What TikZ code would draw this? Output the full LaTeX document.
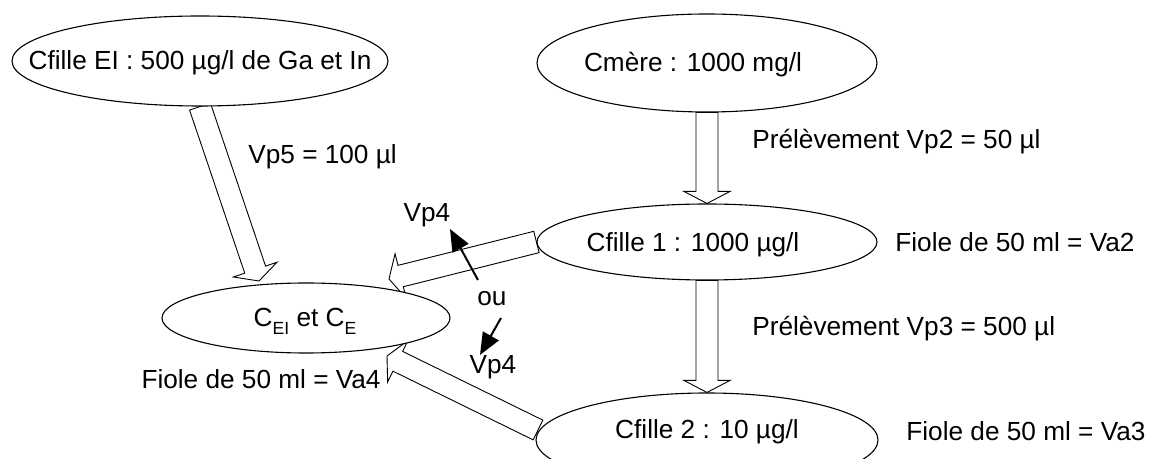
\documentclass[tikz,border=0pt]{standalone}
\usepackage{fontspec}
\setmainfont{Liberation Sans}
\usetikzlibrary{shapes.geometric,calc,arrows.meta}
\pgfdeclarelayer{bg}
\pgfsetlayers{bg,main}
\newcommand\blockarr[2]{%
  \coordinate (tmpH) at ($(#2)!6pt!(#1)$);
  \draw[barrow] ($(#1)!5.5pt!90:(#2)$) -- ($(tmpH)!5.5pt!90:(#2)$) -- ($(tmpH)!11.5pt!90:(#2)$) -- (#2) -- ($(tmpH)!11.5pt!-90:(#2)$) -- ($(tmpH)!5.5pt!-90:(#2)$) -- ($(#1)!5.5pt!-90:(#2)$) -- cycle;}
\newcommand\lowsub[1]{\raisebox{-3.6pt}{\fontsize{8.8}{10}\selectfont #1}}
\tikzset{
  ell/.style={ellipse, draw, line width=0.55pt, fill=white, inner sep=0pt},
  barrow/.style={draw, line width=0.45pt, fill=white, line join=miter},
  txt/.style={inner sep=0pt, anchor=base, font=\fontsize{13.1}{15}\selectfont},
  smallarr/.style={line width=1pt, -{Triangle[length=11pt,width=9pt]}}
}
\begin{document}
\begin{tikzpicture}[x=0.5pt,y=-0.5pt]
\useasboundingbox (0,0) rectangle (1153,459);
\clip (0,0) rectangle (1153,459);
% ellipses
\node[ell, minimum width=188pt, minimum height=45pt] (ei) at (200,61) {};
\node[ell, minimum width=170pt, minimum height=49pt] (m) at (707,63) {};
\node[ell, minimum width=170pt, minimum height=38pt] (c1) at (707,242) {};
\node[ell, minimum width=171pt, minimum height=47pt] (c2) at (707,440) {};
\node[ell, minimum width=144pt, minimum height=35pt] (ce) at (306,318) {};
% ellipse texts
\node[txt] (tei) at (200,70) {Cfille EI : 500 µg/l de Ga et In};
\node[txt] (tm) at (693,72) {Cmère : 1000 mg/l};
\node[txt] (tc1) at (693,252) {Cfille 1 : 1000 µg/l};
\node[txt] (tc2) at (707,439) {Cfille 2 : 10 µg/l};
\node[txt] (tce) at (305,327) {C\lowsub{EI} et C\lowsub{E}};
% labels
\node[txt, anchor=base west] (l1) at (752,149) {Prélèvement Vp2 = 50 µl};
\node[txt, anchor=base west] (l2) at (752,336) {Prélèvement Vp3 = 500 µl};
\node[txt, anchor=base west] (l3) at (895,252) {Fiole de 50 ml = Va2};
\node[txt, anchor=base west] (l4) at (906,441) {Fiole de 50 ml = Va3};
\node[txt, anchor=base east] (l5) at (381,389) {Fiole de 50 ml = Va4};
\node[txt, anchor=base west] (l6) at (248,164) {Vp5 = 100 µl};
\node[txt] (vpa) at (427,222) {Vp4};
\node[txt] (ou) at (492,306) {ou};
\node[txt] (vpb) at (493,374) {Vp4};
% arrow end points
\coordinate (t3) at (259,281);
\coordinate (t4) at (389,279);
\coordinate (s5) at (538,430);
\coordinate (t5) at (387,356);
\begin{pgfonlayer}{bg}
\blockarr{m.south}{c1.north}
\blockarr{c1.south}{c2.north}
\blockarr{ei.south}{t3}
\blockarr{c1.west}{t4}
\blockarr{s5}{t5}
\end{pgfonlayer}
% small black arrows
\coordinate (sa1) at (478,280);
\coordinate (ta1) at (450,229);
\coordinate (sa2) at (501,318);
\coordinate (ta2) at (480,355);
\draw[smallarr] (sa1) -- (ta1);
\draw[smallarr] (sa2) -- (ta2);
\end{tikzpicture}
\end{document}
